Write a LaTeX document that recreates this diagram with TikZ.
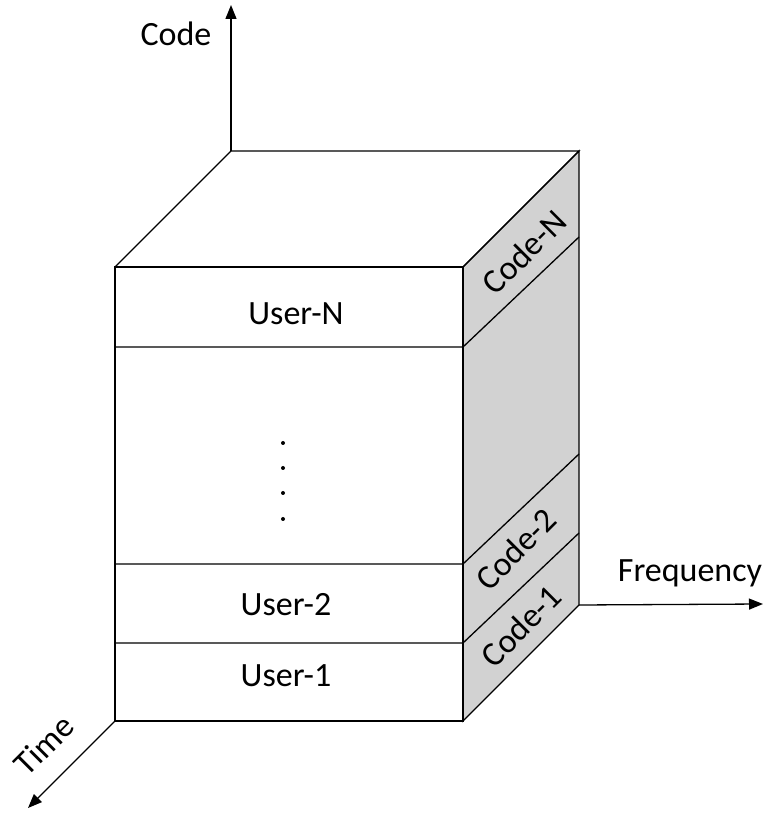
\documentclass[tikz,border=0pt]{standalone}
\usepackage{fontspec}
\setmainfont{Carlito}
\usetikzlibrary{arrows.meta}

\begin{document}
\begin{tikzpicture}[x=1pt,y=1pt,line width=1.3pt,
    lbl/.style={font=\fontsize{34}{40}\selectfont},
    codelbl/.style={lbl,rotate=45,inner sep=0pt},
    axis/.style={->,>={Triangle[length=14pt,width=11pt]}}]

    \def\l{115}	 %left of front face
    \def\r{463}	 %right of front face
    \def\t{553}	 %top of front face
    \def\b{99}	 %bottom of front face
    \def\d{116}	 %depth of the cube
    \def\s{110}	 %rise of the slice lines on the side face

    \useasboundingbox (0,0) rectangle (769,820);

    %CORNERS
    \coordinate (fbl) at (\l,\b);		\coordinate (fbr) at (\r,\b);
    \coordinate (ftl) at (\l,\t);		\coordinate (ftr) at (\r,\t);
    \coordinate (btl) at (\l+\d,\t+\d);	\coordinate (btr) at (\r+\d,\t+\d);
    \coordinate (bbr) at (\r+\d,\b+\d);

    %SIDE FACE (grey)
    \filldraw[fill=gray!35] (fbr)--(ftr)--(btr)--(bbr)--cycle;
    %TOP FACE
    \draw (ftl)--(btl)--(btr)--(ftr);
    %FRONT FACE
    \draw (fbl) rectangle (ftr);

    %SLICES: front line, then slanted line on the side face
    \foreach \y/\nm in {473/N,256/2,177/1}{
        \coordinate (sl\nm) at (\l,\y);
        \coordinate (sm\nm) at (\r,\y);
        \coordinate (sr\nm) at (\r+\d,\y+\s);
        \draw (sl\nm)--(sm\nm)--(sr\nm);
    } %end of slice loop

    %USER LABELS
    \node[lbl] (userN) at (296,506) {User-N};
    \node[lbl] (user2) at (286,215) {User-2};
    \node[lbl] (user1) at (286,144) {User-1};

    %CODE LABELS
    \node[codelbl] (codeN) at (524,568) {Code-N};
    \node[codelbl] (code2) at (516,271) {Code-2};
    \node[codelbl] (code1) at (521,194) {Code-1};

    %DOTS
    \foreach \y [count=\i] in {377,352,327,301}{
        \fill (283,\y) circle (2pt) coordinate (dot\i);
    } %end of dot loop

    %AXES
    \coordinate (codeend) at (231,815);
    \coordinate (freqend) at (763,216);
    \coordinate (timeend) at (28,12);
    \draw[axis] (btl)--(codeend);
    \draw[axis] (bbr)--(freqend);
    \draw[axis] (fbl)--(timeend);
    \node[lbl] (codelab) at (176,786) {Code};
    \node[lbl,anchor=base] (freqlab) at (690,238) {Frequency};
    \node[lbl,rotate=45,inner sep=0pt] (timelab) at (44,75) {Time};

\end{tikzpicture}
\end{document}
